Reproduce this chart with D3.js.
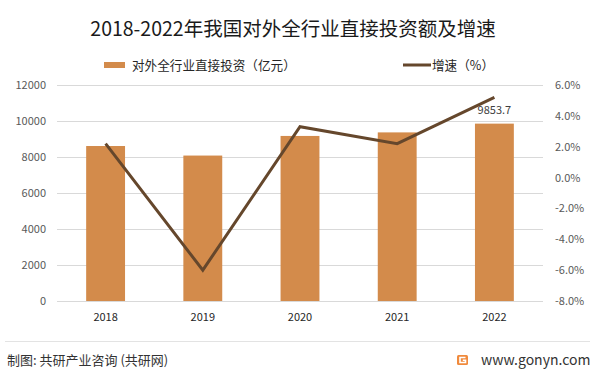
<!DOCTYPE html>
<meta charset="utf-8">
<style>
    body {
        margin: 0;
        background: #fff;
    }

    svg text {
        font-family: "Noto Sans CJK SC", "Noto Sans", sans-serif;
    }

    .grid line {
        stroke: #d9d9d9;
        stroke-width: 1px;
    }

    .axis text {
        font-size: 11px;
        fill: #595959;
    }
</style>
<body>
<script src="https://d3js.org/d3.v7.min.js"></script>
<script>

const years = ["2018", "2019", "2020", "2021", "2022"];
const investment = [8610, 8080, 9170, 9367, 9853.7];
const growth = [2.2, -6.0, 3.3, 2.2, 5.2];
const leftTicks = [0, 2000, 4000, 6000, 8000, 10000, 12000];
const rightTicks = [-8, -6, -4, -2, 0, 2, 4, 6];

const width = 599;
const height = 374;

const barColor = "#d38b4b";
const lineColor = "#65472c";

const svg = d3.select("body").append("svg")
    .attr("width", width)
    .attr("height", height);

// scales
const x = d3.scaleBand()
    .domain(years)
    .range([57, 543])
    .paddingInner(0.6)
    .paddingOuter(0.3);

const yLeft = d3.scaleLinear()
    .domain([0, 12000])
    .range([301, 85]);

const yRight = d3.scaleLinear()
    .domain([-8, 6])
    .range([301, 85]);

// title
svg.append("text")
    .attr("x", 293)
    .attr("y", 36)
    .attr("text-anchor", "middle")
    .style("font-size", "19.5px")
    .style("fill", "#1a1a1a")
    .text("2018-2022年我国对外全行业直接投资额及增速");

// legend
svg.append("rect")
    .attr("x", 104)
    .attr("y", 62)
    .attr("width", 21)
    .attr("height", 6)
    .attr("fill", barColor);

svg.append("text")
    .attr("x", 132)
    .attr("y", 69.5)
    .style("font-size", "12.6px")
    .style("fill", "#262626")
    .text("对外全行业直接投资（亿元）");

svg.append("line")
    .attr("x1", 403)
    .attr("x2", 431)
    .attr("y1", 65)
    .attr("y2", 65)
    .attr("stroke", lineColor)
    .attr("stroke-width", 3);

svg.append("text")
    .attr("x", 432)
    .attr("y", 69.5)
    .style("font-size", "12.6px")
    .style("fill", "#262626")
    .text("增速（%）");

// gridlines
svg.append("g")
    .attr("class", "grid")
    .selectAll("line")
    .data(leftTicks)
    .join("line")
    .attr("x1", 57)
    .attr("x2", 543)
    .attr("y1", d => Math.round(yLeft(d)) + 0.5)
    .attr("y2", d => Math.round(yLeft(d)) + 0.5);

// bars
svg.append("g")
    .selectAll("rect")
    .data(years)
    .join("rect")
    .attr("x", d => x(d))
    .attr("y", (d, i) => yLeft(investment[i]))
    .attr("width", x.bandwidth())
    .attr("height", (d, i) => yLeft(0) - yLeft(investment[i]))
    .attr("fill", barColor);

// growth line
const line = d3.line()
    .x((d, i) => x(years[i]) + x.bandwidth() / 2)
    .y(d => yRight(d));

svg.append("path")
    .datum(growth)
    .attr("d", line)
    .attr("fill", "none")
    .attr("stroke", lineColor)
    .attr("stroke-width", 3)
    .attr("stroke-linejoin", "miter");

// data label for last bar
svg.append("text")
    .attr("x", x("2022") + x.bandwidth() / 2)
    .attr("y", yLeft(investment[4]) - 10)
    .attr("text-anchor", "middle")
    .style("font-size", "11px")
    .style("fill", "#404040")
    .text(d3.format(".1f")(investment[4]));

// axes
svg.append("g")
    .attr("class", "axis")
    .attr("transform", "translate(46,0)")
    .call(d3.axisLeft(yLeft).tickValues(leftTicks).tickSize(0).tickPadding(0)
        .tickFormat(d3.format("d")));

svg.append("g")
    .attr("class", "axis")
    .attr("transform", "translate(555,0)")
    .call(d3.axisRight(yRight).tickValues(rightTicks).tickSize(0).tickPadding(0)
        .tickFormat(d => d.toFixed(1) + "%"));

const bottomAxis = svg.append("g")
    .attr("class", "axis")
    .attr("transform", "translate(0,301)")
    .call(d3.axisBottom(x).tickSize(0).tickPadding(12));

bottomAxis.selectAll("text").style("fill", "#262626");

svg.selectAll(".axis .domain").remove();

// footer
svg.append("line")
    .attr("x1", 5)
    .attr("x2", 590)
    .attr("y1", 341.5)
    .attr("y2", 341.5)
    .attr("stroke", "#e3e3e3");

svg.append("text")
    .attr("x", 7)
    .attr("y", 364.5)
    .style("font-size", "13px")
    .style("fill", "#333")
    .text("制图: 共研产业咨询 (共研网)");

const logo = svg.append("g").attr("transform", "translate(457,355)");
logo.append("rect")
    .attr("width", 11)
    .attr("height", 10)
    .attr("rx", 1.5)
    .attr("fill", "#f08a3c");
logo.append("path")
    .attr("d", "M8.5,2.5 H3 V7.5 H8.5 V5.2 H5.8")
    .attr("fill", "none")
    .attr("stroke", "#fff")
    .attr("stroke-width", 1.6);

svg.append("text")
    .attr("x", 481)
    .attr("y", 365)
    .style("font-size", "14px")
    .style("fill", "#333")
    .text("www.gonyn.com");

</script>
</body>
</html>
